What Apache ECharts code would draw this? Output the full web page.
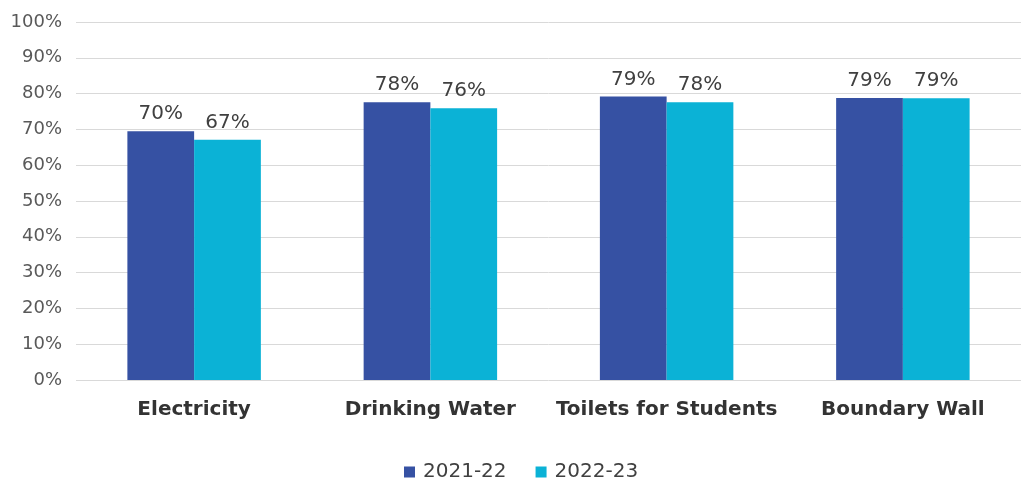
<!DOCTYPE html>
<html>
<head>
<meta charset="utf-8">
<script src="https://cdn.jsdelivr.net/npm/echarts@6/dist/echarts.min.js"></script>
<style>html,body{margin:0;padding:0;background:#fff;}#c{width:1021px;height:479px;}</style>
</head>
<body>
<div id="c"></div>
<script>
const categories = ["Electricity", "Drinking Water", "Toilets for Students", "Boundary Wall"];
const seriesNames = ["2021-22", "2022-23"];
const values2021 = [69.5, 77.6, 79.2, 78.8];
const values2022 = [67.1, 75.9, 77.6, 78.7];
const yTicks = [0, 10, 20, 30, 40, 50, 60, 70, 80, 90, 100];

const chart = echarts.init(document.getElementById('c'));
const font = '"DejaVu Sans", sans-serif';
const labelCfg = {
  show: true, position: 'top', distance: 7,
  color: '#404040', fontSize: 20, fontFamily: font,
  formatter: p => Math.round(p.value) + '%'
};
chart.setOption({
  animation: false,
  textStyle: { fontFamily: font },
  grid: { left: 76, top: 22, bottom: 99, width: 956 },
  legend: {
    data: seriesNames, left: 399, top: 457,
    itemWidth: 11, itemHeight: 11, itemGap: 29,
    icon: 'rect',
    textStyle: { color: '#404040', fontSize: 20, fontFamily: font, padding: [0, 0, 0, 3] }
  },
  xAxis: {
    type: 'category', data: categories,
    axisLine: { show: false }, axisTick: { show: false },
    axisLabel: { interval: 0, hideOverlap: false, color: '#333', fontSize: 20, fontWeight: 'bold', margin: 20, fontFamily: font }
  },
  yAxis: {
    type: 'value', min: yTicks[0], max: yTicks[yTicks.length - 1], interval: 10,
    axisLine: { show: false }, axisTick: { show: false },
    axisLabel: { color: '#595959', fontSize: 18, margin: 14, fontFamily: font, formatter: v => v + '%' },
    splitLine: { lineStyle: { color: '#d9d9d9', width: 1 } }
  },
  series: [
    { name: seriesNames[0], type: 'bar', data: values2021, barGap: '0%', barCategoryGap: '43.5%',
      itemStyle: { color: '#3651A3' }, label: labelCfg },
    { name: seriesNames[1], type: 'bar', data: values2022, barGap: '0%', barCategoryGap: '43.5%',
      itemStyle: { color: '#0BB2D6' }, label: labelCfg }
  ]
});
</script>
</body>
</html>
